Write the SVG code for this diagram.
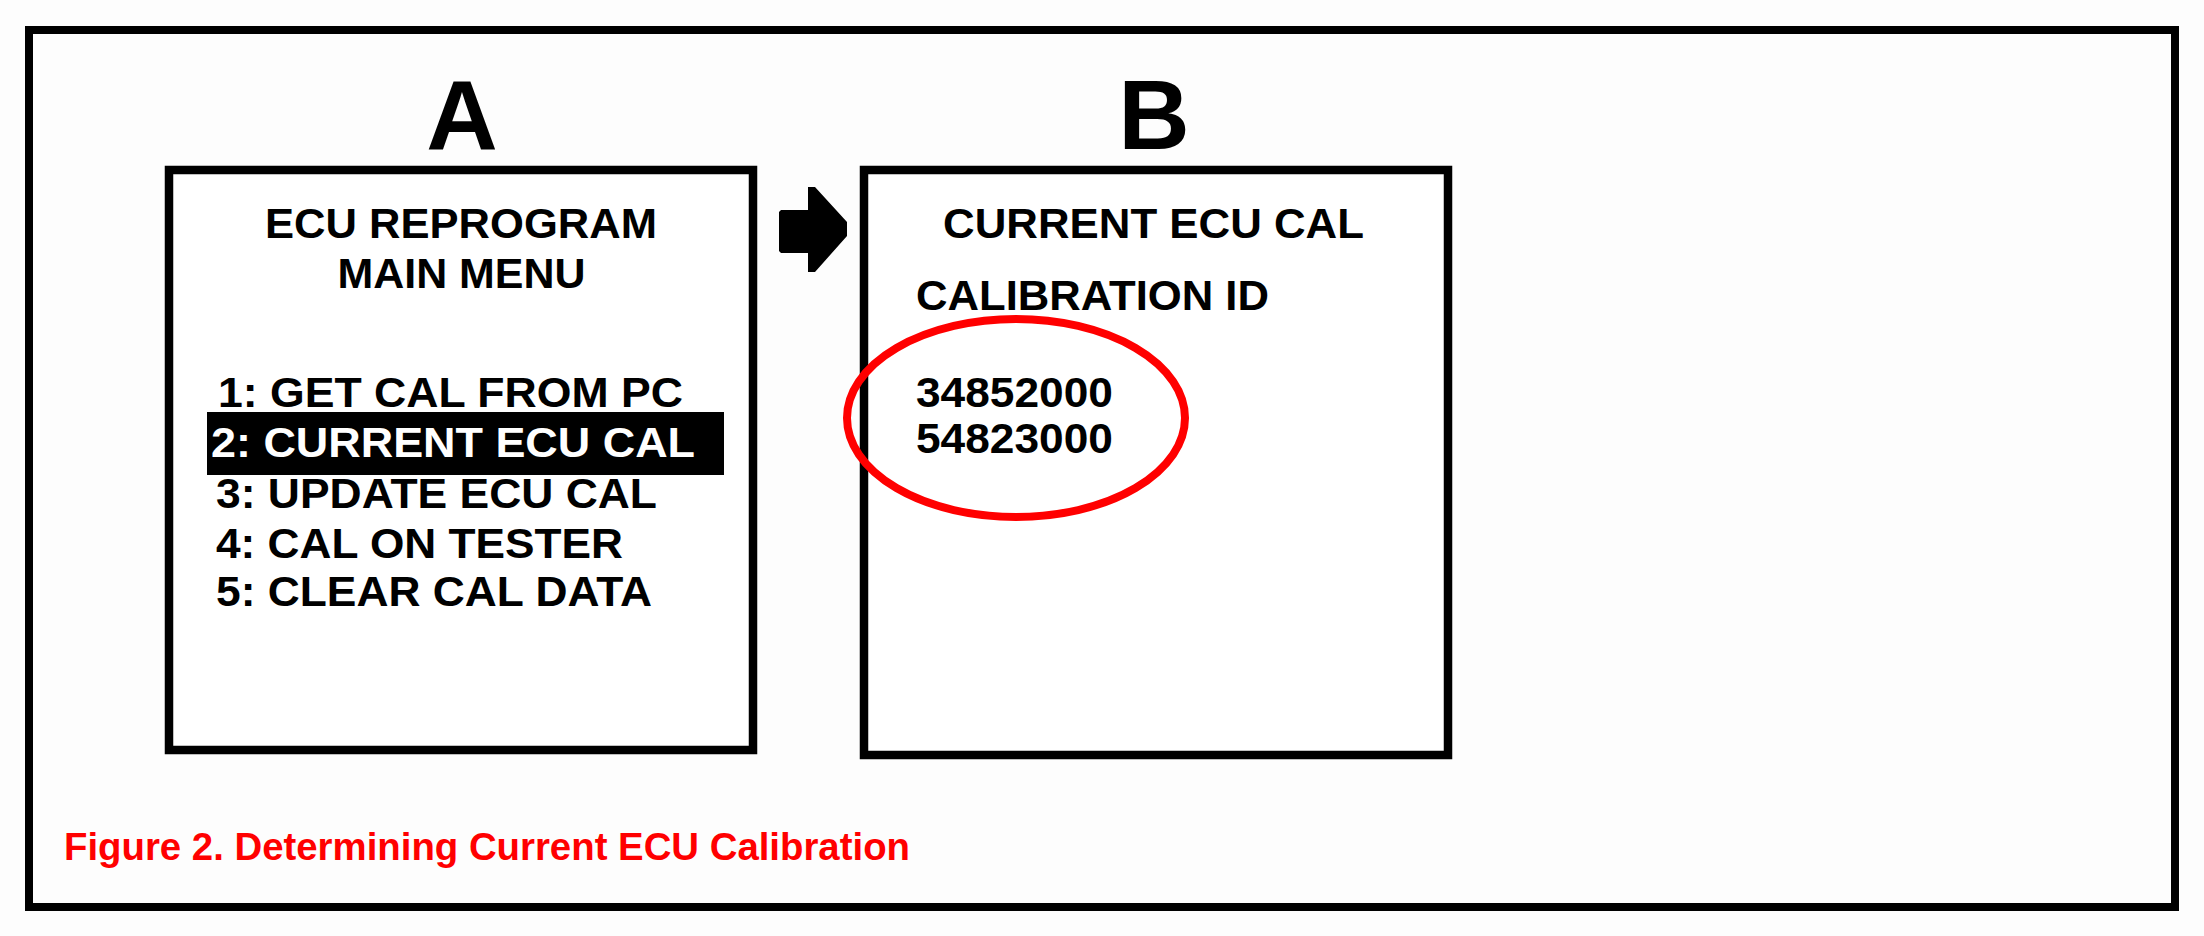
<svg xmlns="http://www.w3.org/2000/svg" width="2204" height="936" viewBox="0 0 2204 936">
  <style>
    .t { font-family: "Liberation Sans", Arial, Helvetica, sans-serif; font-weight: bold; fill: #000; }
    .m { font-size: 42px; }
    .box { fill: #fff; stroke: #000; stroke-width: 8.5; }
    .lbl { font-size: 99px; text-anchor: middle; }
    .cap { font-size: 39px; fill: #ff0000; }
  </style>
  <rect x="0" y="0" width="2204" height="936" fill="#fdfdfd"/>
  <g id="frame">
    <rect x="29" y="30" width="2146" height="877" fill="#fdfdfd" stroke="#000" stroke-width="8"/>
  </g>

  <g id="label-A">
    <text class="t lbl" x="462" y="149">A</text>
  </g>
  <g id="label-B">
    <text class="t lbl" x="1154" y="149">B</text>
  </g>

  <g id="screen-A">
    <rect class="box" x="169" y="170" width="584" height="580"/>
    <text class="t m" x="461" y="238" text-anchor="middle" textLength="392" lengthAdjust="spacingAndGlyphs">ECU REPROGRAM</text>
    <text class="t m" x="461.5" y="288" text-anchor="middle" textLength="248" lengthAdjust="spacingAndGlyphs">MAIN MENU</text>
    <text class="t m" x="218" y="407" textLength="465" lengthAdjust="spacingAndGlyphs">1: GET CAL FROM PC</text>
    <rect x="207" y="412" width="517" height="63" fill="#000"/>
    <text class="t m" x="211" y="457" fill="#fff" style="fill:#fff" textLength="484" lengthAdjust="spacingAndGlyphs">2: CURRENT ECU CAL</text>
    <text class="t m" x="216" y="508" textLength="441" lengthAdjust="spacingAndGlyphs">3: UPDATE ECU CAL</text>
    <text class="t m" x="216" y="558" textLength="407" lengthAdjust="spacingAndGlyphs">4: CAL ON TESTER</text>
    <text class="t m" x="216" y="606" textLength="436" lengthAdjust="spacingAndGlyphs">5: CLEAR CAL DATA</text>
  </g>

  <g id="screen-B">
    <rect class="box" x="864" y="170" width="584" height="585"/>
    <text class="t m" x="943" y="238" textLength="421" lengthAdjust="spacingAndGlyphs">CURRENT ECU CAL</text>
    <text class="t m" x="916" y="310" textLength="353" lengthAdjust="spacingAndGlyphs">CALIBRATION ID</text>
    <text class="t m" x="916" y="407" textLength="197" lengthAdjust="spacingAndGlyphs">34852000</text>
    <text class="t m" x="916" y="453" textLength="197" lengthAdjust="spacingAndGlyphs">54823000</text>
  </g>

  <g id="highlight">
    <ellipse cx="1016" cy="418" rx="169" ry="99" fill="none" stroke="#ff0000" stroke-width="8"/>
  </g>

  <g id="connectors">
    <polygon points="779,212 781,210 808,210 808,187 815,187 847,222 847,236 815,272 808,272 808,253 781,253 779,251" fill="#000"/>
  </g>

  <g id="caption">
    <text class="t cap" x="64" y="860" textLength="846" lengthAdjust="spacingAndGlyphs">Figure 2. Determining Current ECU Calibration</text>
  </g>
</svg>
